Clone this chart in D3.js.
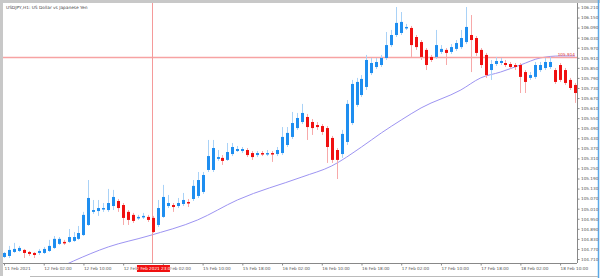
<!DOCTYPE html>
<html>
<head>
<meta charset="utf-8">
<script src="https://cdn.jsdelivr.net/npm/d3@7"></script>
<style>
  html, body { margin: 0; padding: 0; background: #fff; }
  svg text { font-family: "DejaVu Sans", sans-serif; }
</style>
</head>
<body>
<div id="chart"></div>
<script>
// USDJPY H1 candles, bar 0 = 11 Feb 2021 18:00
var opens = [104.722,104.728,104.752,104.758,104.764,104.752,104.746,104.746,104.746,104.758,
  104.776,104.800,104.812,104.812,104.818,104.830,104.853,104.913,104.991,104.996,
  105.008,105.002,105.026,105.056,105.032,104.991,104.973,104.955,104.961,104.961,
  104.955,104.913,104.961,105.026,105.032,105.026,105.038,105.050,105.068,105.086,
  105.110,105.241,105.241,105.307,105.313,105.301,105.336,105.354,105.354,105.360,
  105.342,105.330,105.342,105.336,105.342,105.336,105.342,105.390,105.438,105.491,
  105.527,105.557,105.527,105.509,105.503,105.491,105.432,105.360,105.336,105.408,
  105.521,105.629,105.688,105.736,105.819,105.855,105.867,105.909,105.986,106.046,
  106.058,106.088,106.088,106.034,106.004,105.957,105.915,105.915,105.945,105.957,
  105.945,105.963,105.974,106.004,106.046,106.028,105.957,105.927,105.837,105.873,
  105.879,105.879,105.873,105.867,105.867,105.825,105.790,105.796,105.837,105.849,
  105.855,105.837,105.867,105.837,105.778,105.748];
var highs = [104.752,104.788,104.806,104.788,104.770,104.758,104.752,104.770,104.782,104.824,
  104.847,104.841,104.824,104.889,104.871,104.907,104.991,105.181,105.062,105.062,
  105.044,105.128,105.122,105.068,105.044,105.002,104.985,104.973,104.985,104.973,
  104.967,105.062,105.152,105.092,105.044,105.074,105.104,105.068,105.181,105.229,
  105.229,105.420,105.420,105.360,105.330,105.402,105.402,105.384,105.378,105.372,
  105.354,105.354,105.354,105.360,105.354,105.378,105.497,105.497,105.587,105.581,
  105.635,105.575,105.545,105.527,105.515,105.503,105.444,105.372,105.480,105.658,
  105.778,105.790,105.807,105.927,105.909,105.909,105.927,106.064,106.076,106.213,
  106.183,106.112,106.100,106.046,106.016,105.968,105.927,106.076,105.986,105.968,
  105.992,106.016,106.076,106.213,106.165,106.040,105.968,105.939,105.897,105.915,
  105.909,105.897,105.885,105.879,105.879,105.837,105.825,105.885,105.885,105.909,
  105.915,105.849,105.879,105.849,105.790,105.760];
var lows = [104.716,104.716,104.746,104.752,104.716,104.728,104.716,104.734,104.740,104.752,
  104.770,104.794,104.794,104.806,104.812,104.824,104.847,104.907,104.979,104.967,
  104.991,104.991,105.002,104.991,104.913,104.913,104.925,104.943,104.949,104.931,
  104.865,104.901,104.955,105.014,104.991,105.014,105.026,105.020,105.056,105.074,
  105.098,105.229,105.229,105.295,105.271,105.295,105.324,105.348,105.342,105.318,
  105.301,105.318,105.324,105.324,105.289,105.324,105.330,105.378,105.426,105.480,
  105.515,105.420,105.450,105.480,105.450,105.283,105.283,105.187,105.313,105.390,
  105.509,105.617,105.676,105.718,105.807,105.843,105.855,105.897,105.974,106.034,
  106.046,106.076,105.915,105.957,105.897,105.837,105.885,105.903,105.933,105.867,
  105.933,105.951,105.963,105.992,105.825,105.921,105.849,105.790,105.778,105.861,
  105.867,105.855,105.843,105.837,105.700,105.700,105.778,105.784,105.825,105.837,
  105.843,105.754,105.766,105.748,105.718,105.641];
var closes = [104.746,104.764,104.770,104.776,104.746,104.740,104.734,104.758,104.770,104.788,
  104.830,104.830,104.806,104.841,104.841,104.865,104.973,105.074,105.002,105.014,
  105.014,105.044,105.080,105.014,104.955,104.943,104.937,104.961,104.967,104.943,
  104.871,105.014,105.080,105.044,105.020,105.044,105.062,105.044,105.146,105.181,
  105.211,105.324,105.372,105.318,105.295,105.348,105.378,105.366,105.366,105.330,
  105.318,105.342,105.336,105.342,105.336,105.360,105.438,105.462,105.521,105.551,
  105.581,105.497,105.491,105.497,105.468,105.378,105.301,105.301,105.456,105.635,
  105.754,105.766,105.784,105.897,105.879,105.885,105.909,105.986,106.046,106.118,
  106.124,106.094,105.986,105.974,105.915,105.867,105.897,105.986,105.963,105.939,
  105.974,105.998,106.028,106.094,106.016,105.939,105.867,105.807,105.873,105.891,
  105.891,105.867,105.855,105.855,105.796,105.766,105.807,105.867,105.867,105.885,
  105.885,105.766,105.778,105.760,105.730,105.700];

// moving average, read at a few bars
var maBars = [11, 14, 21, 29, 39, 47, 60, 66, 72, 76, 80, 84, 92, 96, 100, 104, 108, 112, 115];
var maValues = [104.657, 104.698, 104.782, 104.847, 104.943, 105.062, 105.199, 105.265, 105.378,
  105.462, 105.539, 105.611, 105.718, 105.790, 105.825, 105.867, 105.909, 105.921, 105.921];

var priceTicks = ["106.210","106.150","106.090","106.030","105.970","105.910","105.850",
  "105.790","105.730","105.670","105.610","105.550","105.490","105.430","105.370","105.310",
  "105.250","105.190","105.130","105.070","105.010","104.950","104.890","104.830","104.770","104.710"];

var timeBars = [0, 8, 16, 24, 32, 40, 48, 56, 64, 72, 80, 88, 96, 104, 112];
var timeLabels = ["11 Feb 2021","12 Feb 02:00","12 Feb 10:00","12 Feb 18:00","15 Feb 02:00",
  "15 Feb 10:00","15 Feb 18:00","16 Feb 02:00","16 Feb 10:00","16 Feb 18:00","17 Feb 02:00",
  "17 Feb 10:00","17 Feb 18:00","18 Feb 02:00","18 Feb 10:00"];

var title = "USDJPY,H1:  US Dollar vs Japanese Yen";
var hLinePrice = 105.915;
var hLineText = "105.914";
var vLineBar = 30;
var vLineText = "12 Feb 2021 23:00";

var width = 600, height = 278;
var plotLeft = 3, plotTop = 3, plotRight = 577, plotBottom = 263;

var svg = d3.select("#chart").append("svg")
  .attr("width", width)
  .attr("height", height);

var x = d3.scaleLinear().domain([0, 115]).range([4, 575]);
var y = d3.scaleLinear().domain([104.71, 106.21]).range([259, 7.5]);

// frame
svg.append("rect").attr("x", 0).attr("y", 0).attr("width", width).attr("height", 3).attr("fill", "#c8c8c8");
svg.append("rect").attr("x", 0).attr("y", 0).attr("width", 3).attr("height", 276).attr("fill", "#c8c8c8");
svg.append("line").attr("x1", 598.5).attr("x2", 598.5).attr("y1", 0).attr("y2", 278)
  .attr("stroke", "#5aa9e6").attr("stroke-width", 1.5);
svg.append("line").attr("x1", 30).attr("x2", 598).attr("y1", 276.5).attr("y2", 276.5)
  .attr("stroke", "#bbb");

svg.append("clipPath").attr("id", "plotclip")
  .append("rect").attr("x", plotLeft).attr("y", plotTop)
  .attr("width", plotRight - plotLeft).attr("height", plotBottom - plotTop);
var plot = svg.append("g").attr("clip-path", "url(#plotclip)");

// moving average
var ma = d3.line()
  .x(function(d, i) { return x(maBars[i]); })
  .y(function(d) { return y(d); })
  .curve(d3.curveMonotoneX);
plot.append("path")
  .datum(maValues)
  .attr("fill", "none")
  .attr("stroke", "#9d94f2")
  .attr("stroke-width", 1)
  .attr("d", ma);

// horizontal and vertical lines (behind candles)
var hY = Math.round(y(hLinePrice));
plot.append("rect")
  .attr("x", plotLeft).attr("width", plotRight - plotLeft)
  .attr("y", hY - 0.25).attr("height", 1.5)
  .attr("fill", "#f7a3a3");
plot.append("rect")
  .attr("x", Math.round(x(vLineBar)) - 1).attr("width", 1)
  .attr("y", plotTop).attr("height", plotBottom - plotTop)
  .attr("fill", "#f59a9a");

// candles
var bars = d3.range(opens.length);
var candle = plot.selectAll(".candle")
  .data(bars)
  .enter().append("g")
  .attr("class", "candle");

candle.append("line")
  .attr("x1", function(i) { return Math.round(x(i)) + 0.5; })
  .attr("x2", function(i) { return Math.round(x(i)) + 0.5; })
  .attr("y1", function(i) { return y(highs[i]); })
  .attr("y2", function(i) { return y(lows[i]); })
  .attr("stroke", function(i) { return closes[i] >= opens[i] ? "#a9d2f7" : "#f7a9a9"; })
  .attr("stroke-width", 1);

candle.append("rect")
  .attr("x", function(i) { return Math.round(x(i)) - 1; })
  .attr("width", 3)
  .attr("y", function(i) { return y(Math.max(opens[i], closes[i])); })
  .attr("height", function(i) { return Math.max(1.5, Math.abs(y(opens[i]) - y(closes[i]))); })
  .attr("fill", function(i) { return closes[i] >= opens[i] ? "#1e8ef0" : "#f01010"; });

plot.append("text")
  .attr("x", plotRight - 2).attr("y", hY - 1)
  .attr("text-anchor", "end")
  .attr("font-size", 4.2)
  .attr("fill", "#e03030")
  .text(hLineText);

// title
svg.append("text")
  .attr("x", 6).attr("y", 9)
  .attr("font-size", 4.3)
  .attr("fill", "#444")
  .text(title);

// price axis
svg.append("line").attr("x1", plotRight + 0.5).attr("x2", plotRight + 0.5).attr("y1", plotTop).attr("y2", plotBottom)
  .attr("stroke", "#888");
var yAxis = svg.append("g").attr("transform", "translate(" + (plotRight + 0.5) + ",0)")
  .call(d3.axisRight(y)
    .tickValues(priceTicks.map(Number))
    .tickSize(2)
    .tickPadding(1.5)
    .tickFormat(function(d, i) { return priceTicks[i]; }));
yAxis.select(".domain").remove();
yAxis.selectAll("line").attr("stroke", "#888");
yAxis.selectAll("text").attr("font-size", 4.2).attr("fill", "#555").attr("font-family", "DejaVu Sans, sans-serif");

// time axis
svg.append("line").attr("x1", plotLeft).attr("x2", plotRight).attr("y1", plotBottom + 0.5).attr("y2", plotBottom + 0.5)
  .attr("stroke", "#888");
var tagX = x(vLineBar);
var xAxis = svg.append("g").attr("transform", "translate(0," + (plotBottom + 0.5) + ")")
  .call(d3.axisBottom(x)
    .tickValues(timeBars)
    .tickSize(2)
    .tickPadding(2)
    .tickFormat(function(d, i) { return timeLabels[i]; }));
xAxis.select(".domain").remove();
xAxis.selectAll("line").attr("stroke", "#888");
xAxis.selectAll("text")
  .attr("text-anchor", "start")
  .attr("font-size", 4.2).attr("fill", "#555").attr("font-family", "DejaVu Sans, sans-serif");

// crosshair time tag
svg.append("rect")
  .attr("x", tagX - 16).attr("y", plotBottom + 2)
  .attr("width", 33).attr("height", 7)
  .attr("fill", "#f01010");
svg.append("text")
  .attr("x", tagX + 0.5).attr("y", plotBottom + 7.3)
  .attr("text-anchor", "middle")
  .attr("font-size", 4.2)
  .attr("fill", "#fff")
  .text(vLineText);
</script>
</body>
</html>
